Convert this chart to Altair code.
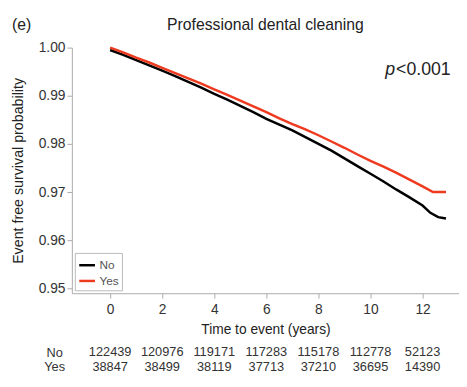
import altair as alt
import pandas as pd

FONT = "Liberation Sans"

# Kaplan-Meier curves
no_time = [0, 0.5, 1, 1.5, 2, 2.5, 3, 3.5, 4, 4.5, 5, 5.5, 6, 6.5, 7, 7.5, 8, 8.5, 9, 9.5, 10, 10.5, 11, 11.5, 12, 12.3, 12.6, 12.9]
no_surv = [0.9995, 0.9985, 0.9974, 0.9963, 0.9952, 0.9941, 0.9929, 0.9917, 0.9904, 0.9892, 0.9879, 0.9866, 0.9852, 0.9840, 0.9828, 0.9814, 0.9800, 0.9786, 0.9770, 0.9754, 0.9738, 0.9722, 0.9705, 0.9689, 0.9672, 0.9657, 0.9648, 0.9645]
yes_time = [0, 0.5, 1, 1.5, 2, 2.5, 3, 3.5, 4, 4.5, 5, 5.5, 6, 6.5, 7, 7.5, 8, 8.5, 9, 9.5, 10, 10.5, 11, 11.5, 12, 12.4, 12.9]
yes_surv = [1.0000, 0.9990, 0.9979, 0.9969, 0.9958, 0.9947, 0.9936, 0.9925, 0.9913, 0.9902, 0.9890, 0.9878, 0.9866, 0.9853, 0.9841, 0.9830, 0.9818, 0.9805, 0.9792, 0.9778, 0.9765, 0.9753, 0.9740, 0.9726, 0.9712, 0.9700, 0.9700]

# Number at risk table
risk_times = [0, 2, 4, 6, 8, 10, 12]
risk_no = [122439, 120976, 119171, 117283, 115178, 112778, 52123]
risk_yes = [38847, 38499, 38119, 37713, 37210, 36695, 14390]

groups = ["No", "Yes"]
colors = ["#000000", "#ee3a1f"]
x_ticks = [0, 2, 4, 6, 8, 10, 12]
y_ticks = [0.95, 0.96, 0.97, 0.98, 0.99, 1.00]

lines_df = pd.DataFrame({
    "time": no_time + yes_time,
    "surv": no_surv + yes_surv,
    "group": ["No"] * len(no_time) + ["Yes"] * len(yes_time),
})
risk_df = pd.DataFrame({
    "time": risk_times * 2,
    "n": risk_no + risk_yes,
    "group": ["No"] * len(risk_times) + ["Yes"] * len(risk_times),
})

x_scale = alt.Scale(domain=[-1.47, 13.4], nice=False, zero=False)
x_axis = alt.Axis(values=x_ticks, title="Time to event (years)", grid=False,
                  domainColor="#aaaaaa", tickColor="#aaaaaa", tickSize=5,
                  labelFont=FONT, labelFontSize=14, labelColor="#333333", labelPadding=5,
                  titleFont=FONT, titleFontSize=14, titleFontWeight="normal",
                  titleColor="#222222", titlePadding=6)

lines = alt.Chart(lines_df).mark_line(strokeWidth=2.5).encode(
    x=alt.X("time:Q", scale=x_scale, axis=x_axis),
    y=alt.Y("surv:Q", scale=alt.Scale(domain=[0.949, 1.0], nice=False, zero=False),
            axis=alt.Axis(values=y_ticks, format=".2f", title="Event free survival probability",
                          grid=False, domainColor="#aaaaaa", tickColor="#aaaaaa", tickSize=5,
                          labelFont=FONT, labelFontSize=14, labelColor="#333333", labelPadding=2,
                          titleFont=FONT, titleFontSize=14.5, titleFontWeight="normal",
                          titleColor="#222222", titlePadding=13)),
    color=alt.Color("group:N", scale=alt.Scale(domain=groups, range=colors),
                    legend=alt.Legend(orient="bottom-left", offset=3, title=None,
                                      symbolType="stroke", symbolStrokeWidth=2.5, symbolSize=256,
                                      labelFont=FONT, labelFontSize=12, labelColor="#555555",
                                      labelOffset=3, rowPadding=0, padding=3,
                                      strokeColor="#bbbbbb", fillColor="white")),
    detail="group:N",
)

risk = alt.Chart(risk_df).mark_text(font=FONT, fontSize=13, color="#333333", baseline="middle").encode(
    x=alt.X("time:Q", scale=x_scale, axis=x_axis),
    y=alt.Y("group:N", scale=alt.Scale(type="point", domain=groups, range=[310, 325], padding=0),
            axis=alt.Axis(orient="left", domain=False, ticks=False, grid=False, title=None,
                          labelFont=FONT, labelFontSize=13, labelColor="#333333",
                          labelAlign="center", labelPadding=18)),
    text=alt.Text("n:Q", format="d"),
)

p_italic = alt.Chart(pd.DataFrame({"label": ["p"]})).mark_text(
    font=FONT, fontSize=18, fontStyle="italic", align="left",
    baseline="middle", color="#222222").encode(
    x=alt.value(319), y=alt.value(23), text="label:N")
p_rest = alt.Chart(pd.DataFrame({"label": ["<0.001"]})).mark_text(
    font=FONT, fontSize=18, align="left", baseline="middle", color="#222222").encode(
    x=alt.value(330), y=alt.value(23), text="label:N")
panel = alt.Chart(pd.DataFrame({"label": ["(e)"]})).mark_text(
    font=FONT, fontSize=16, align="left", baseline="middle", color="#222222").encode(
    x=alt.value(-61), y=alt.value(-23), text="label:N")
title = alt.Chart(pd.DataFrame({"label": ["Professional dental cleaning"]})).mark_text(
    font=FONT, fontSize=16, align="center", baseline="middle", color="#222222").encode(
    x=alt.value(197), y=alt.value(-23), text="label:N")

chart = alt.layer(lines, risk, p_italic, p_rest, panel, title).resolve_scale(
    y="independent"
).properties(
    width=394,
    height=250,
    autosize=alt.AutoSizeParams(type="none"),
    padding={"left": 65, "top": 37, "right": 0, "bottom": 84},
).configure_view(stroke=None)

chart.save("out.html", embed_options={"renderer": "svg", "actions": False})
